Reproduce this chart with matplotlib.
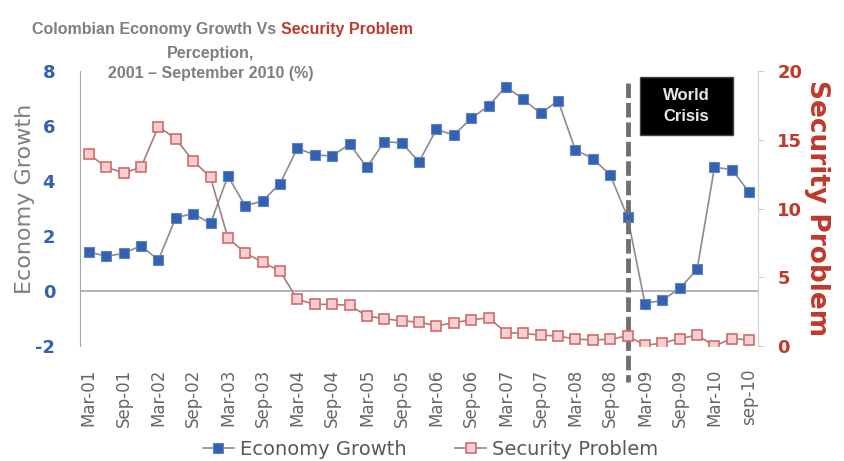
import numpy as np
import matplotlib.pyplot as plt
from matplotlib.patches import Rectangle

plt.rcParams['axes.unicode_minus'] = False

# quarterly data, Mar-01 .. Sep-10
quarters = ['Mar', 'Jun', 'Sep', 'Dec']
periods = ['%s-%02d' % (q, y) for y in range(1, 11) for q in quarters][:39]
tick_labels = [p for i, p in enumerate(periods) if i % 2 == 0]
tick_labels[-1] = 'sep-10'

economy = [1.43, 1.27, 1.37, 1.65, 1.13, 2.67, 2.82, 2.46, 4.18, 3.10,
           3.28, 3.91, 5.19, 4.95, 4.91, 5.35, 4.50, 5.43, 5.39, 4.70,
           5.88, 5.67, 6.28, 6.73, 7.43, 6.97, 6.46, 6.92, 5.13, 4.82,
           4.22, 2.70, -0.45, -0.33, 0.10, 0.79, 4.50, 4.42, 3.59]
security = [13.96, 13.0, 12.6, 13.0, 15.96, 15.07, 13.48, 12.27, 7.87, 6.78,
            6.10, 5.46, 3.40, 3.04, 3.04, 2.97, 2.20, 2.00, 1.83, 1.76,
            1.47, 1.72, 1.90, 2.08, 0.99, 0.94, 0.80, 0.75, 0.51, 0.46,
            0.50, 0.75, 0.07, 0.22, 0.56, 0.80, 0.02, 0.56, 0.46]
crisis_at = 31

GREY = '#7f7f7f'
BLUE = '#3461b0'
RED = '#c0392b'
SANS = ['Liberation Sans', 'DejaVu Sans']

x = np.arange(len(periods))

fig = plt.figure(figsize=(8.44, 4.61), dpi=100)
ax = fig.add_axes([0.095, 0.249, 0.803, 0.597])
ax2 = ax.twinx()

ax.plot(x, economy, color='#8c8c8c', lw=1.2, marker='s', ms=7.5,
        mfc=BLUE, mec='#5b84c9', mew=0.8, zorder=3, label='Economy Growth')
ax2.plot(x, security, color='#a08080', lw=1.2, marker='s', ms=7.5,
         mfc='#f6d0d0', mec='#d36b6b', mew=1.2, zorder=3, label='Security Problem')

ax.set_xlim(-0.5, 38.5)
ax.set_ylim(-2, 8)
ax2.set_ylim(0, 20)
ax.axhline(0, color='#a6a6a6', lw=1.2, zorder=1)

for a in (ax, ax2):
    a.spines['top'].set_visible(False)
    a.spines['bottom'].set_visible(False)
ax.spines['right'].set_visible(False)
ax2.spines['left'].set_visible(False)
ax.spines['left'].set_color('#a6a6a6')
ax2.spines['right'].set_color('#d0d0d0')

ax.set_yticks([-2, 0, 2, 4, 6, 8])
ax.tick_params(axis='y', length=0, pad=18, labelsize=13, labelcolor=BLUE)
for t in ax.get_yticklabels():
    t.set_fontweight('bold')
ax2.set_yticks([0, 5, 10, 15, 20])
ax2.tick_params(axis='y', length=4, color='#d0d0d0', pad=10, labelsize=13, labelcolor=RED)
for t in ax2.get_yticklabels():
    t.set_fontweight('bold')

ax.set_xticks(x[::2])
ax.set_xticklabels(tick_labels, rotation=90, fontsize=12, color='#666666')
ax.tick_params(axis='x', length=0, pad=16)

ax.set_ylabel('Economy Growth', fontsize=16, color=GREY)
ax.yaxis.set_label_coords(-0.066, 0.535)
ax2.set_ylabel('Security Problem', fontsize=19, color=RED, fontweight='bold',
               rotation=270, labelpad=20)

# world crisis marker
ax.plot([crisis_at, crisis_at], [7.55, -3.3], color='#707070', lw=3.5,
        ls=(0, (3, 1)), clip_on=False, zorder=4)
ax.add_patch(Rectangle((31.72, 5.67), 5.35, 2.11, fc='black', ec='#444444',
                       lw=1, zorder=5, clip_on=False))
ax.text(34.4, 6.72, 'World\nCrisis', color='#e8e8e8', fontsize=12, fontweight='bold',
        ha='center', va='center', linespacing=1.5, zorder=6, family=SANS)

# title, first line in two colours
t1 = fig.text(0.038, 0.935, 'Colombian Economy Growth Vs ', color=GREY, fontsize=11.5,
              fontweight='bold', ha='left', va='center', family=SANS)
ax.annotate('Security Problem', xy=(1, 0.5), xycoords=t1, color=RED, fontsize=11.5,
            fontweight='bold', ha='left', va='center', family=SANS,
            annotation_clip=False)
fig.text(0.25, 0.885, 'Perception,', color=GREY, fontsize=11.5,
         fontweight='bold', ha='center', va='center', family=SANS)
fig.text(0.25, 0.840, '2001 \u2013 September 2010 (%)', color=GREY, fontsize=11.5,
         fontweight='bold', ha='center', va='center', family=SANS)

h1, l1 = ax.get_legend_handles_labels()
h2, l2 = ax2.get_legend_handles_labels()
leg = fig.legend(h1 + h2, l1 + l2, loc='center', bbox_to_anchor=(0.51, 0.025),
                 ncol=2, frameon=False, fontsize=14, handlelength=1.6,
                 columnspacing=2.5, handletextpad=0.3)
for t in leg.get_texts():
    t.set_color('#595959')

fig.savefig('out.png', dpi=100)
